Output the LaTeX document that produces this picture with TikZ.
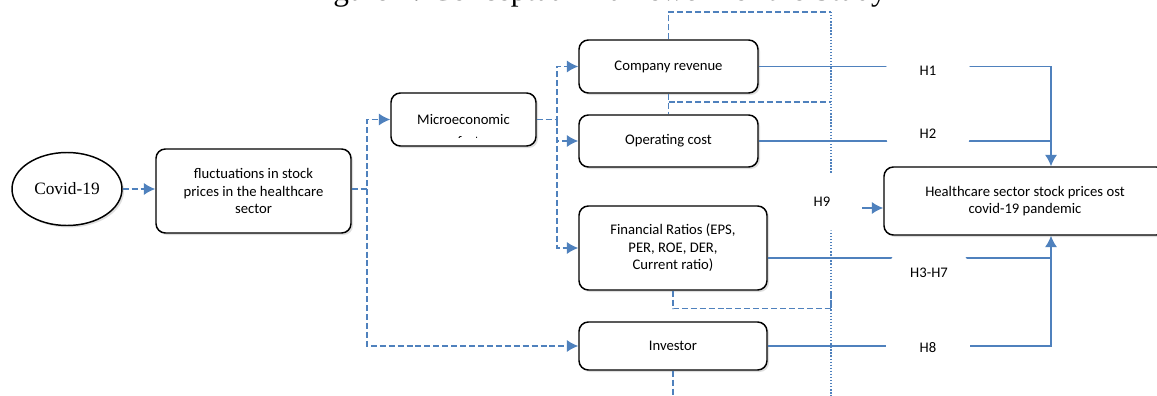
\documentclass[tikz,border=0pt]{standalone}
\usepackage{fontspec}
\setmainfont{Carlito}
\newfontfamily\serifx{Liberation Serif}
\usetikzlibrary{arrows.meta,shapes.geometric,shadows}

\begin{document}
\begin{tikzpicture}[x=0.75pt,y=-0.75pt,
    box/.style={draw=black, line width=1.1pt, rounded corners=7pt, fill=white, align=center,
        inner sep=2pt, font=\fontsize{11}{13.2}\selectfont,
        drop shadow={shadow xshift=1.5pt, shadow yshift=-1.5pt, opacity=0.25}},
    hlabel/.style={ellipse, fill=white, inner sep=0pt, minimum width=63pt, minimum height=48pt,
        font=\fontsize{11}{13}\selectfont},
    dashlink/.style={draw=linkblue, line width=1.1pt, dash pattern=on 4.5pt off 2.2pt},
    dasharrow/.style={dashlink, -{Latex[length=8.5pt,width=9pt]}},
    dotlink/.style={draw=linkblue, line width=1pt, dash pattern=on 1pt off 1.3pt},
    link/.style={draw=linkblue, line width=1.1pt},
    linkarrow/.style={link, -{Latex[length=8.5pt,width=9pt]}}]
    % Define colors
    \definecolor{linkblue}{RGB}{79, 129, 189}

    % Page frame
    \fill[white] (0,0) rectangle (1157,396);
    \useasboundingbox (0,0) rectangle (1157,396);

    % Title (cut off at the top)
    \node[anchor=base west, inner sep=0pt, font=\serifx\fontsize{23.5}{28}\selectfont] (title) at (307,1)
        {Figure 1. Conceptual Framework of the Study};

    % Guide coordinates
    \coordinate (s1) at (367,0);
    \coordinate (s2) at (557,0);
    \coordinate (jt) at (1051,0);
    \coordinate (vtop) at (831,12);
    \coordinate (vmid) at (831,102);
    \coordinate (bot) at (668,400);

    % Dotted guide line
    \draw[dotlink] (vtop) -- (vtop |- bot);

    % Nodes
    \node[draw=black, line width=1.1pt, ellipse, fill=white, inner sep=0pt,
        minimum width=82.5pt, minimum height=54.75pt, font=\serifx\fontsize{13}{15}\selectfont,
        drop shadow={shadow xshift=1.5pt, shadow yshift=-1.5pt, opacity=0.25}] (covid) at (67,189) {Covid-19};
    \node[box, minimum width=146.25pt, minimum height=63pt] (fluct) at (253.5,191)
        {fluctuations in stock\\prices in the healthcare\\sector};
    \node[box, minimum width=108.75pt, minimum height=39.75pt] (micro) at (463.5,119.5) {Microeconomic};
    \node[box, minimum width=134.25pt, minimum height=39.75pt] (rev) at (668.5,66.5) {Company revenue};
    \node[box, minimum width=134.25pt, minimum height=39pt] (cost) at (668.5,141) {Operating cost};
    \node[box, minimum width=141pt, minimum height=63pt] (ratio) at (673,248)
        {Financial Ratios (EPS,\\PER, ROE, DER,\\Current ratio)};
    \node[box, minimum width=141pt, minimum height=36pt] (inv) at (673,346) {Investor};
    \node[box, minimum width=211.5pt, minimum height=51pt] (hc) at (1025,201)
        {Healthcare sector stock prices ost\\covid-19 pandemic};

    % Second line of the micro box, hidden by the box
    \begin{scope}
        \clip (micro.north west) rectangle ([yshift=6.75pt]micro.south east);
        \node[anchor=base west, inner sep=0pt, font=\fontsize{11}{13.2}\selectfont] (microb) at (457,146) {factors};
    \end{scope}

    % Dashed flow on the left
    \draw[dasharrow] (covid) -- (fluct.west |- covid);
    \draw[dasharrow] (fluct.east |- covid) -- (s1 |- covid) |- (micro.west);
    \draw[dasharrow] (s1 |- covid) |- (inv.west);
    \draw[dasharrow] (micro.east) -- (micro.east -| s2) |- (rev.west);
    \draw[dasharrow] (micro.east -| s2) |- (cost.west);
    \draw[dasharrow] (micro.east -| s2) |- (ratio.west);

    % Dashed ties to the dotted line
    \draw[dashlink] (rev.north) |- (vtop);
    \draw[dashlink] (rev.south) -- (cost.north);
    \draw[dashlink] (rev.south |- vmid) -- (vmid);
    \draw[dashlink] (ratio.south) -- ++(0,18) -| (vmid |- ratio.south);
    \draw[dashlink] (inv.south) -- (inv.south |- bot);

    % Hypothesis links
    \draw[linkarrow] (rev.east) -| (jt |- hc.north);
    \draw[link] (cost.east) -- (cost.east -| jt);
    \draw[link] ([yshift=-7.5pt]ratio.east) -- ([yshift=-7.5pt]ratio.east -| jt);
    \draw[linkarrow] (inv.east) -| (jt |- hc.south);

    % Hypothesis labels
    \node[hlabel] (h1) at (928,71) {H1};
    \node[hlabel] (h2) at (928,134) {H2};
    \node[hlabel] (h37) at (929,273) {H3-H7};
    \node[hlabel] (h8) at (928,348) {H8};
    \node[hlabel, minimum width=60pt, minimum height=44pt] (h9) at (822,202) {H9};
    \draw[linkarrow] ([yshift=-4.5pt]h9.east) -- ([yshift=-4.5pt]h9.east -| hc.west);

\end{tikzpicture}
\end{document}
